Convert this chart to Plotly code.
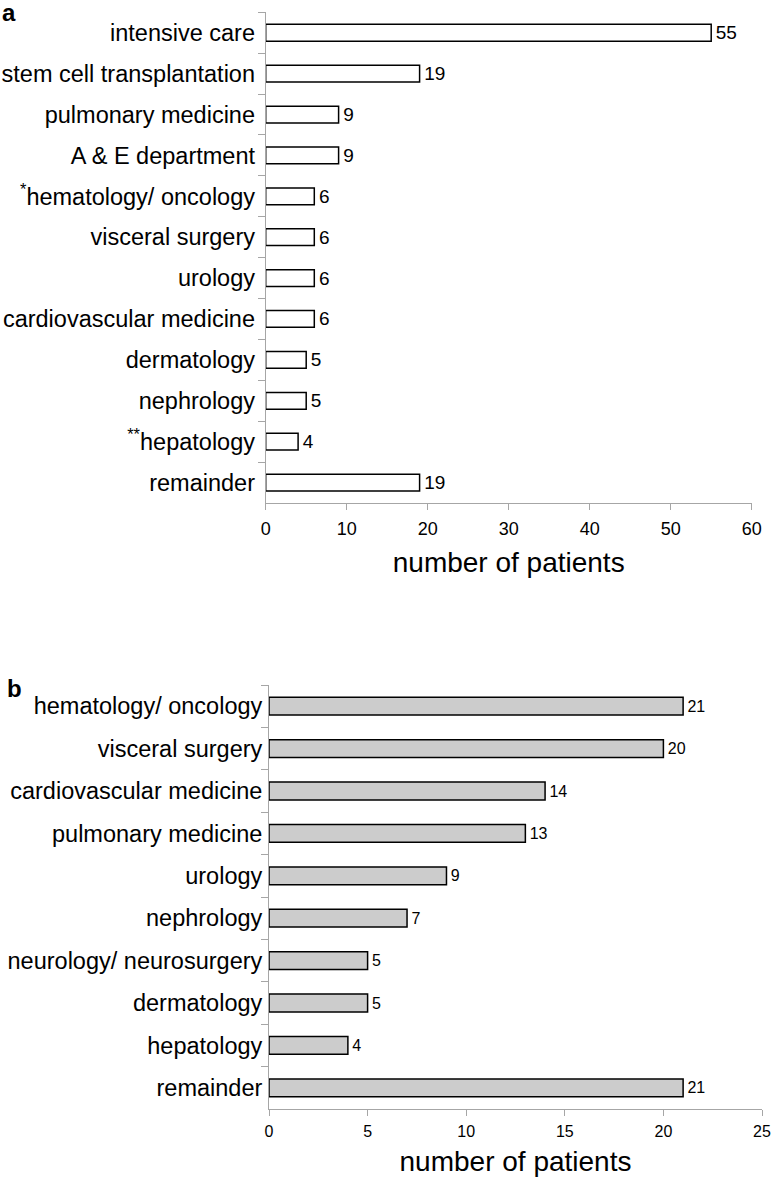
import plotly.graph_objects as go

# ---------------- data ----------------
cats_a = ["intensive care", "stem cell transplantation", "pulmonary medicine",
          "A &amp; E department", "<sup>*</sup>hematology/ oncology", "visceral surgery",
          "urology", "cardiovascular medicine", "dermatology", "nephrology",
          "<sup>**</sup>hepatology", "remainder"]
vals_a = [55, 19, 9, 9, 6, 6, 6, 6, 5, 5, 4, 19]

cats_b = ["hematology/ oncology", "visceral surgery", "cardiovascular medicine",
          "pulmonary medicine", "urology", "nephrology", "neurology/ neurosurgery",
          "dermatology", "hepatology", "remainder"]
vals_b = [21, 20, 14, 13, 9, 7, 5, 5, 4, 21]

ticks_a = [0, 10, 20, 30, 40, 50, 60]
ticks_b = [0, 5, 10, 15, 20, 25]
axis_title = "number of patients"

W, H = 772, 1177
FONT = "Liberation Sans, Arial, Helvetica, sans-serif"
AXCOL = "#a6a6a6"


def px(x):
    return x / W


def py(y):
    return 1 - y / H


fig = go.Figure()

fig.add_trace(go.Bar(
    x=vals_a, y=cats_a, orientation="h", width=0.41,
    marker=dict(color="white", line=dict(color="black", width=1.5)),
    text=["\u200a" + str(v) for v in vals_a], textposition="outside",
    textfont=dict(family=FONT, size=19, color="black"),
    constraintext="none", cliponaxis=False,
    xaxis="x", yaxis="y", showlegend=False, hoverinfo="skip",
))

fig.add_trace(go.Bar(
    x=vals_b, y=cats_b, orientation="h", width=0.42,
    marker=dict(color="#cccccc", line=dict(color="black", width=1.5)),
    text=["\u200a" + str(v) for v in vals_b], textposition="outside",
    textfont=dict(family=FONT, size=16, color="black"),
    constraintext="none", cliponaxis=False,
    xaxis="x2", yaxis="y2", showlegend=False, hoverinfo="skip",
))

common_x = dict(showgrid=False, zeroline=False, showline=True, linecolor=AXCOL,
                linewidth=1, ticks="outside", tickcolor=AXCOL, ticklen=6,
                tickwidth=1, automargin=False, fixedrange=True)
common_y = dict(showgrid=False, zeroline=False, showline=True, linecolor=AXCOL,
                linewidth=1, ticks="outside", tickcolor=AXCOL, ticklen=7,
                tickwidth=1, tickson="boundaries", automargin=False,
                autorange="reversed", fixedrange=True,
                tickfont=dict(family=FONT, size=23.5, color="black"))

fig.update_layout(
    width=W, height=H,
    margin=dict(l=0, r=0, t=0, b=0),
    paper_bgcolor="white", plot_bgcolor="white",
    font=dict(family=FONT, color="black"),
    bargap=0.5,
    xaxis=dict(domain=[px(265.7), px(751.7)], range=[0, 60], tickvals=ticks_a,
               anchor="y", tickfont=dict(family=FONT, size=18, color="black"),
               ticklabelstandoff=3,
               title=dict(text=axis_title, font=dict(family=FONT, size=28, color="black"),
                          standoff=14),
               **common_x),
    yaxis=dict(domain=[py(503), py(12.3)], anchor="x", ticklabelstandoff=5, **common_y),
    xaxis2=dict(domain=[px(269), px(762)], range=[0, 25], tickvals=ticks_b,
                anchor="y2", tickfont=dict(family=FONT, size=16, color="black"),
                ticklabelstandoff=2,
                title=dict(text=axis_title, font=dict(family=FONT, size=28, color="black"),
                           standoff=15),
                **common_x),
    yaxis2=dict(domain=[py(1109), py(685)], anchor="x2", ticklabelstandoff=1, **common_y),
)

fig.add_annotation(text="<b>a</b>", xref="paper", yref="paper", x=0, y=py(12),
                   xanchor="left", yanchor="middle", showarrow=False,
                   font=dict(family=FONT, size=24, color="black"))
fig.add_annotation(text="<b>b</b>", xref="paper", yref="paper", x=px(5), y=py(688),
                   xanchor="left", yanchor="middle", showarrow=False,
                   font=dict(family=FONT, size=24, color="black"))

fig.write_html("out.html", config={"displayModeBar": False},
               post_script="document.body.style.margin='0px';")
